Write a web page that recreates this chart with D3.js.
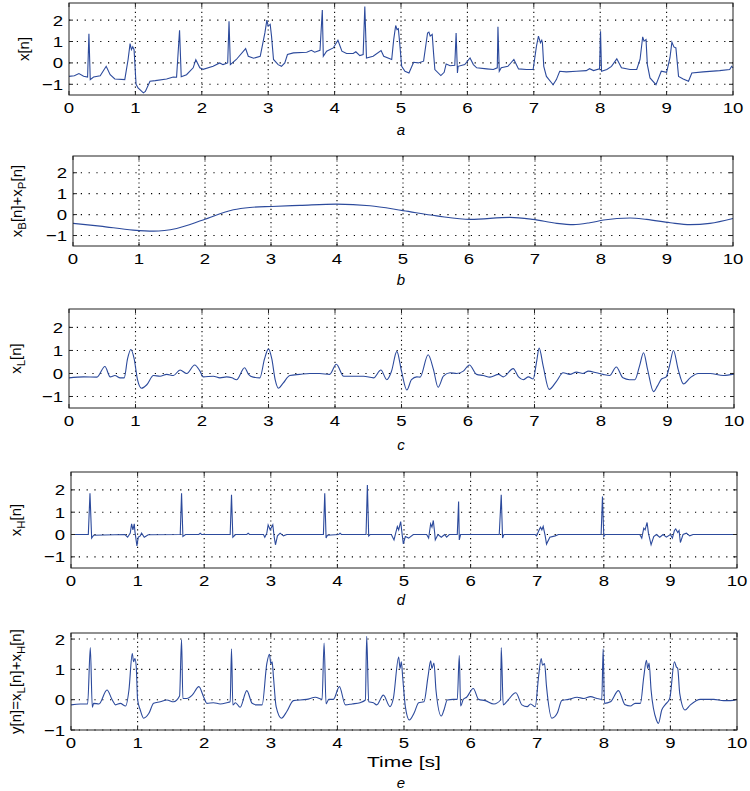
<!DOCTYPE html>
<html>
<head>
<meta charset="utf-8">
<script src="https://cdn.jsdelivr.net/npm/d3@7"></script>
<style>
body { margin:0; background:#fff; }
text { font-family: "Liberation Sans", Arial, sans-serif; fill:#000; }
</style>
</head>
<body>
<div id="figure"></div>
<script>
var width = 750
var height = 791
var lineColor = "#2c4a9c"

var xTicks = [0,1,2,3,4,5,6,7,8,9,10]
var yTicks = [-1,0,1,2]
var xDomain = [0,10]

// x[n] : raw ecg
var signalA = [[0,-0.63],[0.08,-0.6],[0.15,-0.5],[0.22,-0.62],[0.28,-0.66],[0.30,1.36],[0.32,-0.78],[0.37,-0.66],[0.47,-0.6],[0.56,-0.16],[0.62,-0.55],[0.69,-0.75],[0.84,-0.78],[0.89,0.16],[0.92,0.9],[0.94,0.62],[0.96,0.75],[0.98,0.62],[1.01,-1.0],[1.04,-1.17],[1.12,-1.4],[1.15,-1.33],[1.22,-0.86],[1.3,-0.83],[1.47,-0.75],[1.57,-0.66],[1.62,-0.67],[1.665,1.53],[1.69,-0.65],[1.77,-0.55],[1.87,-0.23],[1.91,0.15],[1.97,-0.23],[2.02,-0.3],[2.17,-0.16],[2.27,0],[2.32,-0.08],[2.39,0],[2.41,1.95],[2.43,-0.08],[2.52,0.16],[2.66,0.67],[2.70,0.31],[2.78,0.22],[2.88,0.31],[2.95,1.4],[2.98,2.0],[3.0,1.72],[3.03,1.8],[3.05,1.25],[3.08,0.16],[3.15,-0.08],[3.2,-0.16],[3.25,0],[3.29,0.39],[3.38,0.47],[3.58,0.5],[3.65,0.59],[3.70,0.5],[3.78,0.59],[3.815,2.47],[3.83,0.31],[3.88,0.55],[3.98,0.7],[4.05,1.06],[4.11,0.55],[4.18,0.44],[4.28,0.44],[4.32,0.52],[4.38,0.34],[4.43,0.39],[4.455,2.63],[4.48,0.23],[4.58,0.31],[4.70,0.58],[4.74,0.31],[4.86,0.16],[4.89,1.09],[4.92,1.75],[4.94,1.56],[4.96,1.6],[4.98,0.94],[5.01,-0.16],[5.06,-0.39],[5.12,-0.47],[5.19,0.03],[5.26,0],[5.34,0.08],[5.40,1.4],[5.42,1.44],[5.44,1.25],[5.47,1.33],[5.49,0.47],[5.51,-0.31],[5.60,-0.59],[5.65,-0.44],[5.68,-0.05],[5.74,-0.13],[5.81,-0.11],[5.83,1.4],[5.85,-0.47],[5.86,-0.16],[5.96,-0.08],[6.04,0.23],[6.09,-0.08],[6.14,-0.23],[6.29,-0.28],[6.39,-0.31],[6.45,-0.23],[6.46,1.69],[6.48,-0.39],[6.51,-0.23],[6.61,-0.16],[6.70,0.16],[6.77,-0.28],[6.89,-0.31],[6.99,-0.31],[7.04,0.78],[7.07,1.25],[7.10,0.94],[7.12,1.06],[7.13,0.94],[7.15,-0.16],[7.19,-0.63],[7.27,-0.94],[7.29,-1.02],[7.34,-0.78],[7.39,-0.39],[7.49,-0.42],[7.64,-0.39],[7.79,-0.36],[7.84,-0.27],[7.90,-0.36],[7.99,-0.28],[8.005,1.48],[8.02,-0.39],[8.10,-0.31],[8.17,-0.16],[8.25,0.19],[8.32,-0.23],[8.45,-0.31],[8.55,-0.31],[8.60,0.16],[8.64,1.22],[8.66,1.02],[8.69,1.09],[8.71,-0.08],[8.75,-0.7],[8.84,-1.02],[8.87,-0.78],[8.92,-0.39],[9.0,-0.44],[9.05,0.23],[9.08,0.97],[9.11,0.75],[9.14,0.7],[9.18,-0.63],[9.25,-0.75],[9.33,-0.86],[9.38,-0.47],[9.55,-0.42],[9.80,-0.36],[9.95,-0.31],[9.98,-0.16],[10,-0.23]]

// xB[n]+xP[n] : baseline wander
var signalB = [[0,-0.42],[0.41,-0.55],[0.91,-0.74],[1.22,-0.79],[1.57,-0.66],[1.97,-0.26],[2.43,0.23],[2.68,0.34],[3.01,0.39],[3.44,0.44],[3.99,0.5],[4.5,0.42],[5.0,0.19],[5.51,-0.06],[6.02,-0.23],[6.62,-0.13],[6.97,-0.23],[7.33,-0.42],[7.58,-0.48],[7.83,-0.39],[8.04,-0.26],[8.44,-0.16],[8.69,-0.23],[9.05,-0.39],[9.35,-0.48],[9.65,-0.42],[10,-0.19]]

// xL[n] : low band
var signalC = [[0,-0.19],[0.22,-0.15],[0.42,-0.16],[0.54,0.3],[0.62,-0.15],[0.69,-0.09],[0.77,-0.19],[0.83,-0.19],[0.88,0.63],[0.93,1.04],[0.98,0.63],[1.03,-0.27],[1.09,-0.64],[1.17,-0.49],[1.27,-0.09],[1.37,-0.12],[1.47,-0.04],[1.57,-0.09],[1.67,0.15],[1.77,0],[1.89,0.37],[1.97,0.1],[2.02,-0.15],[2.17,-0.12],[2.27,-0.19],[2.37,-0.15],[2.45,-0.19],[2.52,-0.27],[2.64,0.25],[2.70,-0.04],[2.77,-0.16],[2.87,-0.19],[2.94,0.63],[3.0,1.07],[3.05,0.63],[3.1,-0.27],[3.15,-0.64],[3.22,-0.42],[3.32,-0.09],[3.47,-0.04],[3.62,0],[3.77,0],[3.92,-0.04],[4.02,0.4],[4.13,-0.12],[4.28,-0.12],[4.43,-0.12],[4.58,-0.19],[4.69,0.15],[4.78,-0.27],[4.85,0.1],[4.93,0.96],[5.0,0.1],[5.08,-0.72],[5.15,-0.27],[5.23,-0.15],[5.28,-0.16],[5.40,0.81],[5.48,0.18],[5.55,-0.6],[5.63,-0.12],[5.73,0.03],[5.83,0],[5.93,0.1],[6.02,0.37],[6.13,-0.04],[6.23,-0.09],[6.33,-0.16],[6.46,-0.04],[6.53,-0.15],[6.68,0.21],[6.76,-0.15],[6.83,-0.27],[6.91,-0.15],[6.98,-0.24],[7.03,0.48],[7.07,1.1],[7.13,0.33],[7.22,-0.69],[7.33,-0.34],[7.43,0.03],[7.53,-0.04],[7.63,0.06],[7.73,0],[7.81,0.1],[7.93,0.03],[8.03,-0.04],[8.13,-0.09],[8.23,0.28],[8.33,-0.19],[8.43,-0.27],[8.51,-0.27],[8.58,0.33],[8.64,0.9],[8.70,0.18],[8.79,-0.79],[8.85,-0.54],[8.91,-0.24],[8.98,-0.15],[9.03,0.33],[9.09,1.0],[9.16,0.18],[9.24,-0.45],[9.34,-0.19],[9.46,0],[9.64,0],[9.84,-0.09],[10,-0.03]]

// xH[n] : high band
var signalD = [[0,0],[0.26,0],[0.285,1.85],[0.31,-0.16],[0.34,-0.03],[0.81,0],[0.85,-0.12],[0.89,0.06],[0.91,0.48],[0.93,0.21],[0.95,0.48],[0.96,0.13],[0.99,-0.51],[1.01,-0.12],[1.04,-0.06],[1.06,0.06],[1.10,-0.12],[1.16,-0.01],[1.64,0],[1.66,1.85],[1.68,-0.09],[1.72,0],[1.92,0],[1.94,0.06],[1.96,0],[2.39,0],[2.41,1.78],[2.43,-0.12],[2.47,0],[2.64,0],[2.66,0.06],[2.68,0],[2.89,0],[2.91,-0.12],[2.94,0.06],[2.96,0.43],[2.99,0.21],[3.03,0.43],[3.05,-0.09],[3.07,-0.46],[3.10,-0.06],[3.14,0.06],[3.19,-0.06],[3.24,0],[3.79,0],[3.81,1.85],[3.83,-0.16],[3.85,-0.03],[4.02,0],[4.04,0.06],[4.06,0],[4.43,0],[4.45,2.22],[4.47,-0.06],[4.49,0],[4.81,0],[4.85,-0.24],[4.90,0.36],[4.92,0.21],[4.95,0.58],[4.97,0.06],[4.99,-0.42],[5.02,-0.09],[5.07,-0.16],[5.14,0],[5.34,0],[5.37,-0.16],[5.40,0.48],[5.42,0.33],[5.44,0.63],[5.46,0.09],[5.47,-0.24],[5.51,0],[5.56,-0.12],[5.61,0],[5.64,-0.12],[5.68,0],[5.80,0],[5.82,1.48],[5.83,-0.24],[5.85,0],[6.43,0],[6.46,1.78],[6.48,-0.16],[6.50,0],[6.97,0],[6.99,-0.06],[7.03,0.21],[7.05,0.33],[7.07,0.21],[7.09,0.36],[7.12,-0.06],[7.14,-0.43],[7.19,-0.12],[7.27,-0.06],[7.32,0],[7.96,0],[7.98,1.7],[8.0,-0.09],[8.02,0],[8.54,0],[8.57,-0.16],[8.60,0.28],[8.62,0.21],[8.65,0.54],[8.67,0.06],[8.71,-0.46],[8.75,-0.09],[8.79,0],[8.84,-0.12],[8.89,0],[8.94,-0.12],[9.0,0],[9.03,-0.16],[9.06,0.18],[9.08,0.25],[9.11,0.09],[9.13,0.18],[9.15,-0.36],[9.19,0],[9.24,0.06],[9.29,-0.06],[9.34,0],[10,0]]

// y[n] = xL[n] + xH[n]
var signalE = [[0,-0.17],[0.14,-0.14],[0.25,-0.14],[0.29,1.72],[0.32,-0.25],[0.34,-0.12],[0.42,-0.14],[0.54,0.32],[0.62,-0.01],[0.67,-0.17],[0.74,-0.12],[0.82,-0.21],[0.87,0.32],[0.92,1.52],[0.94,1.25],[0.96,1.36],[0.98,1.08],[1.0,0],[1.04,-0.34],[1.09,-0.61],[1.17,-0.45],[1.24,-0.12],[1.34,-0.07],[1.44,-0.01],[1.54,-0.07],[1.63,0.12],[1.66,1.98],[1.68,0.04],[1.74,0.04],[1.82,0.15],[1.92,0.43],[1.99,0.1],[2.04,-0.12],[2.14,-0.1],[2.24,-0.14],[2.34,-0.1],[2.39,-0.07],[2.41,1.68],[2.43,-0.17],[2.47,-0.1],[2.54,-0.25],[2.64,0.3],[2.72,-0.12],[2.79,-0.17],[2.87,-0.17],[2.94,1.19],[2.98,1.5],[3.0,1.19],[3.02,1.25],[3.04,0.75],[3.08,-0.23],[3.16,-0.61],[3.24,-0.39],[3.34,-0.03],[3.54,0.01],[3.67,0.08],[3.77,0.01],[3.80,1.87],[3.83,-0.14],[3.87,0.01],[3.94,0.01],[4.03,0.43],[4.12,-0.17],[4.22,-0.14],[4.34,-0.1],[4.42,-0.01],[4.44,2.09],[4.47,-0.07],[4.54,-0.1],[4.59,-0.17],[4.69,0.15],[4.79,-0.23],[4.84,0.04],[4.92,1.41],[4.94,1.03],[4.96,1.25],[4.98,0.75],[5.02,-0.23],[5.08,-0.67],[5.15,-0.45],[5.22,-0.1],[5.30,-0.07],[5.36,0.75],[5.40,1.28],[5.42,1.03],[5.45,1.21],[5.48,0.32],[5.56,-0.54],[5.60,-0.34],[5.65,-0.01],[5.74,0.01],[5.80,0.01],[5.83,1.46],[5.85,-0.21],[5.89,0.01],[5.94,0.08],[6.04,0.37],[6.12,0.01],[6.22,-0.03],[6.35,-0.14],[6.45,-0.01],[6.46,1.72],[6.49,-0.17],[6.54,-0.07],[6.68,0.23],[6.77,-0.17],[6.85,-0.23],[6.90,-0.14],[6.97,-0.23],[7.02,0.75],[7.06,1.36],[7.08,1.14],[7.11,1.19],[7.14,0.43],[7.22,-0.61],[7.30,-0.45],[7.37,-0.03],[7.47,0.01],[7.60,0.08],[7.70,0.04],[7.80,0.1],[7.90,0.04],[7.97,0.01],[7.99,1.68],[8.01,-0.12],[8.10,-0.07],[8.22,0.3],[8.32,-0.17],[8.40,-0.21],[8.47,-0.12],[8.55,-0.12],[8.60,0.75],[8.64,1.3],[8.66,1.03],[8.68,1.21],[8.71,0.32],[8.79,-0.67],[8.82,-0.78],[8.87,-0.34],[8.92,-0.17],[8.99,0.04],[9.06,1.25],[9.09,1.08],[9.11,1.03],[9.14,0.21],[9.22,-0.34],[9.30,-0.17],[9.45,0.01],[9.65,0.01],[9.80,-0.03],[9.90,-0.03],[10,0.01]]

// y-axis label pieces: [text, isSubscript]
var labelA = [["x[n]",0]]
var labelB = [["x",0],["B",1],["[n]+x",0],["P",1],["[n]",0]]
var labelC = [["x",0],["L",1],["[n]",0]]
var labelD = [["x",0],["H",1],["[n]",0]]
var labelE = [["y[n]=x",0],["L",1],["[n]+x",0],["H",1],["[n]",0]]

var panels = [
  {data:signalA, curve:d3.curveLinear, yDomain:[-1.5,2.8], left:69, right:733, top:3, bottom:95, label:labelA, labelX:29, sub:"a", subY:135},
  {data:signalB, curve:d3.curveMonotoneX, yDomain:[-1.5,2.8], left:73, right:733, top:156, bottom:246, label:labelB, labelX:22, sub:"b", subY:285},
  {data:signalC, curve:d3.curveMonotoneX, yDomain:[-1.5,2.8], left:69, right:734, top:309, bottom:408, label:labelC, labelX:21, sub:"c", subY:450},
  {data:signalD, curve:d3.curveLinear, yDomain:[-1.5,2.8], left:71, right:737, top:472, bottom:568, label:labelD, labelX:21, sub:"d", subY:605},
  {data:signalE, curve:d3.curveMonotoneX, yDomain:[-1,2.2], left:71, right:737, top:633, bottom:730, label:labelE, labelX:21, sub:"e", subY:788}
]

var tickFont = 15.5

var svg = d3.select('#figure')
  .append('svg')
  .attr('width', width)
  .attr('height', height)

function stretchedText(g, x, y, str, anchor, sx, size) {
  return g.append('text')
    .attr('transform', 'translate(' + x + ',' + y + ') scale(' + sx + ',1)')
    .attr('text-anchor', anchor)
    .style('font-size', (size || tickFont) + 'px')
    .text(str)
}

panels.forEach(function(p, i) {
  var x = d3.scaleLinear().domain(xDomain).range([p.left, p.right])
  var y = d3.scaleLinear().domain(p.yDomain).range([p.bottom, p.top])
  var g = svg.append('g')

  // dotted grid
  g.selectAll('.hgrid').data(yTicks).enter().append('line')
    .attr('x1', p.left).attr('x2', p.right)
    .attr('y1', function(d){ return y(d) }).attr('y2', function(d){ return y(d) })
    .attr('stroke', '#000').attr('stroke-width', 1.1)
    .attr('stroke-dasharray', '1.2,6.6')
  g.selectAll('.vgrid').data(xTicks.slice(1, -1)).enter().append('line')
    .attr('x1', function(d){ return x(d) }).attr('x2', function(d){ return x(d) })
    .attr('y1', p.top).attr('y2', p.bottom)
    .attr('stroke', '#000').attr('stroke-width', 1.1)
    .attr('stroke-dasharray', '1.2,3.2')

  // signal
  var line = d3.line()
    .x(function(d){ return x(d[0]) })
    .y(function(d){ return y(d[1]) })
    .curve(p.curve)
  g.append('path')
    .datum(p.data)
    .attr('d', line)
    .attr('fill', 'none')
    .attr('stroke', lineColor)
    .attr('stroke-width', 1.1)

  // inward ticks on all four sides
  var tl = 4
  xTicks.forEach(function(t) {
    g.append('line').attr('x1', x(t)).attr('x2', x(t)).attr('y1', p.bottom).attr('y2', p.bottom - tl).attr('stroke', '#222')
    g.append('line').attr('x1', x(t)).attr('x2', x(t)).attr('y1', p.top).attr('y2', p.top + tl).attr('stroke', '#222')
  })
  yTicks.forEach(function(t) {
    g.append('line').attr('x1', p.left).attr('x2', p.left + tl).attr('y1', y(t)).attr('y2', y(t)).attr('stroke', '#222')
    g.append('line').attr('x1', p.right).attr('x2', p.right - tl).attr('y1', y(t)).attr('y2', y(t)).attr('stroke', '#222')
  })

  // frame
  g.append('rect')
    .attr('x', p.left).attr('y', p.top)
    .attr('width', p.right - p.left).attr('height', p.bottom - p.top)
    .attr('fill', 'none').attr('stroke', '#222').attr('stroke-width', 1)

  // tick labels
  xTicks.forEach(function(t) {
    stretchedText(g, x(t), p.bottom + 17.5, d3.format('d')(t), 'middle', 1.2)
  })
  yTicks.forEach(function(t) {
    stretchedText(g, p.left - 6, y(t) + 5.5, d3.format('d')(t), 'end', 1.2)
  })

  // y label, rotated, with subscripts
  var lab = g.append('text')
    .attr('transform', 'translate(' + p.labelX + ',' + ((p.top + p.bottom) / 2) + ') rotate(-90)')
    .attr('text-anchor', 'middle')
    .style('font-size', '15px')
  var shifted = 0
  p.label.forEach(function(part) {
    var ts = lab.append('tspan').text(part[0])
    if (part[1]) {
      ts.attr('dy', 4).style('font-size', '11.5px')
      shifted = 4
    } else if (shifted) {
      ts.attr('dy', -shifted)
      shifted = 0
    }
  })

  // panel letter
  g.append('text')
    .attr('x', 401).attr('y', p.subY)
    .attr('text-anchor', 'middle')
    .style('font-size', '15px')
    .style('font-style', 'italic')
    .text(p.sub)
})

// shared x label under last panel
stretchedText(svg, 404, 767, 'Time [s]', 'middle', 1.4, 15)
</script>
</body>
</html>
